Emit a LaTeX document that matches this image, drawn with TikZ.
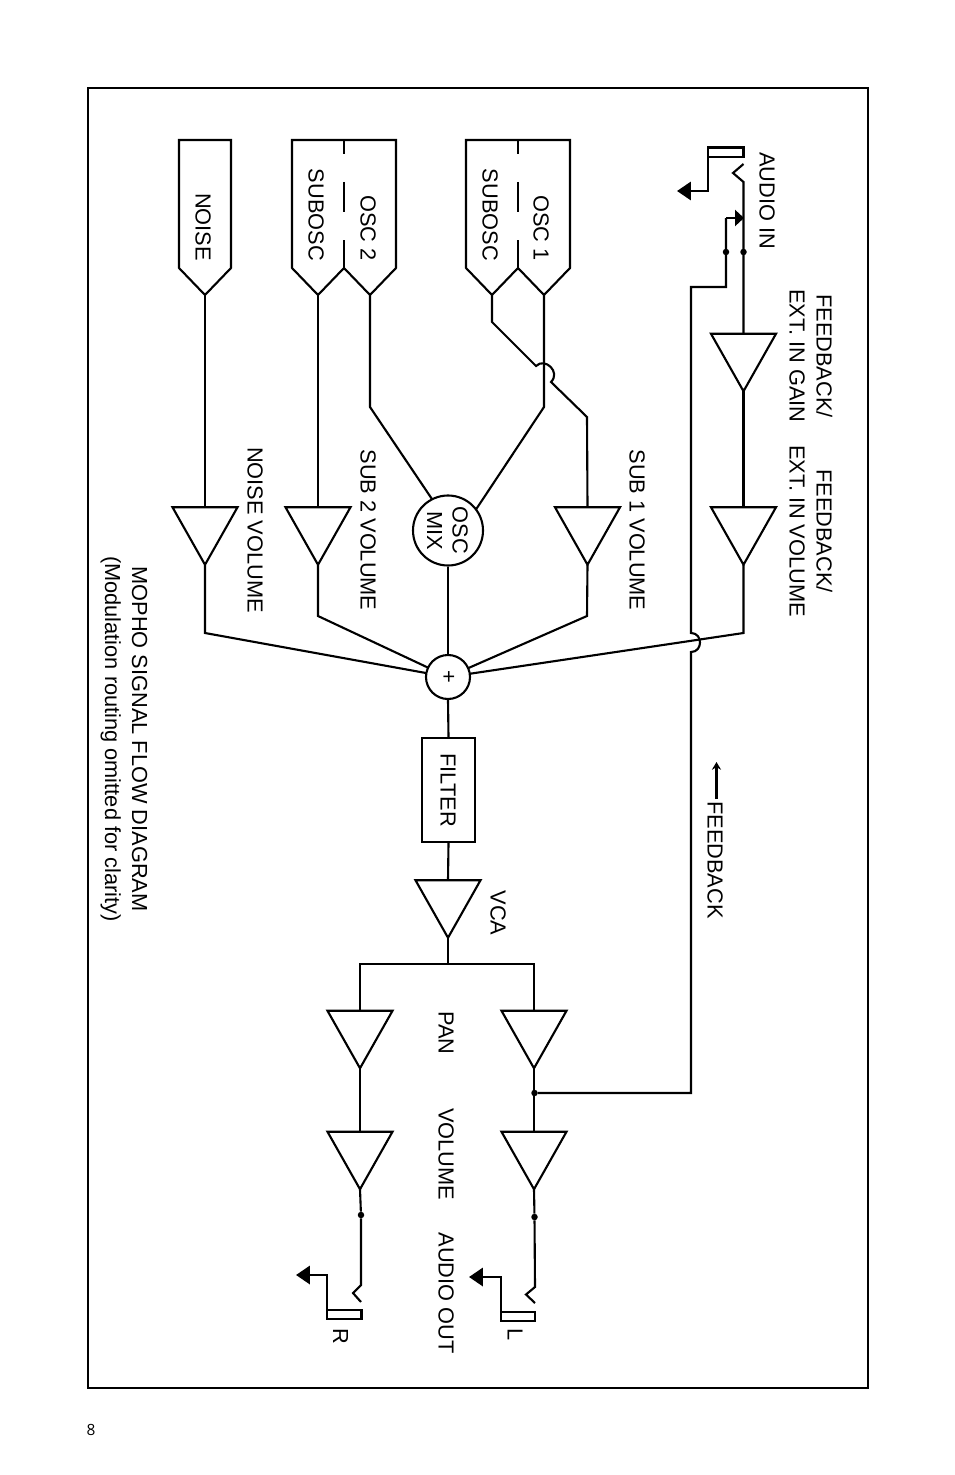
\documentclass[tikz,border=0pt]{standalone}
\usepackage{fontspec}
\setmainfont{Liberation Sans}
\newfontfamily\pagefont{Open Sans}
\usetikzlibrary{arrows.meta}
\newlength{\upx}\setlength{\upx}{0.05cm}
\tikzset{
  x=0.05cm,y=-0.05cm,
  wire/.style={line width=3pt,line join=miter},
  thick wire/.style={line width=3.8pt},
  frame/.style={draw,line width=3pt},
  lab/.style={rotate=-90,anchor=base,inner sep=0pt,font=\fontsize{31}{38.4}\selectfont},
  lab2/.style={rotate=-90,anchor=center,inner sep=0pt,align=center,font=\fontsize{31}{38.4}\selectfont},
  ampbox/.style={minimum width=65\upx,minimum height=57.5\upx,inner sep=0pt,outer sep=0pt},
  dot/.style={circle,fill,inner sep=0pt,minimum size=6.5\upx},
  sumcirc/.style={circle,draw,fill=white,line width=3pt,inner sep=0pt,minimum size=44\upx},
  mixcirc/.style={circle,draw,fill=white,line width=3pt,inner sep=0pt,minimum size=70\upx},
  filterbox/.style={draw,line width=3pt,inner sep=0pt,minimum width=53\upx,minimum height=104\upx},
  head/.style={-{Triangle[length=19.9pt,width=26pt]}},
  head small/.style={-{Triangle[length=12.8pt,width=22.8pt]}},
  head tiny/.style={-{Stealth[length=11pt,width=13pt]}},
}
\newcommand{\ampl}[3]{%
  \node[ampbox] (#1) at (#2,#3) {};
  \draw[wire] (#1.north west) -- (#1.north east) -- (#1.south) -- cycle;
}
% a pair of source blocks sharing a broken side: name1,name2,left,mid,right
\newcommand{\srcpair}[5]{%
  \coordinate (#1) at ({(#3+#4)/2},295);
  \coordinate (#2) at ({(#4+#5)/2},295);
  \draw[wire] (#3,268) -- (#3,140) -- (#5,140) -- (#5,268) -- (#2) -- (#4,268) -- (#1) -- cycle;
  \draw[wire] (#4,140) -- (#4,154);
  \draw[wire] (#4,182) -- (#4,212);
  \draw[wire] (#4,240) -- (#4,268);
}
\begin{document}
\begin{tikzpicture}
\useasboundingbox (0,0) rectangle (954,1475);
\draw[frame] (88,88) rectangle (868,1388);

% sources
\coordinate (noise) at (205,295);
\draw[wire] (179,268) -- (179,140) -- (231,140) -- (231,268) -- (noise) -- cycle;
\srcpair{subtwo}{osctwo}{292}{344}{396}
\srcpair{subone}{oscone}{466}{518}{570}
\node[lab] at (195.5,227) {NOISE};
\node[lab] at (308.5,215) {SUBOSC};
\node[lab] at (360.5,228) {OSC 2};
\node[lab] at (482.5,215) {SUBOSC};
\node[lab] at (533.5,228) {OSC 1};

% amplifiers
\ampl{infb}{743.5}{362.5}
\ampl{fbvol}{743.5}{536}
\ampl{subonev}{587.5}{536}
\ampl{subtwov}{318}{536}
\ampl{noisev}{205}{536}
\ampl{vca}{448}{909}
\ampl{panl}{534}{1039.5}
\ampl{panr}{360}{1039.5}
\ampl{voll}{534}{1160.5}
\ampl{volr}{360}{1160.5}

% oscillator wiring
\coordinate (o2bend) at (370,407);
\coordinate (o1bend) at (544,407);
\coordinate (s1a) at (492,322);
\coordinate (s1b) at (536,366);
\coordinate (s1c) at (551,382);
\coordinate (s1d) at (587,417);
\coordinate (mixc) at (448,530.5);
\coordinate (sumc) at (448,677);
\coordinate (o2end) at (440,511);
\coordinate (o1end) at (470,518.5);
\draw[wire] (noise) -- (noisev.north);
\draw[wire] (subtwo) -- (subtwov.north);
\draw[wire] (osctwo) -- (o2bend) -- (o2end);
\draw[wire] (oscone) -- (o1bend) -- (o1end);
\draw[wire] (subone) -- (s1a) -- (s1b) .. controls (545,357) and (561,372) .. (s1c) -- (s1d) -- (subonev.north);

% into the summer
\coordinate (nb) at (205,633);
\coordinate (s2b) at (318,616);
\coordinate (s1e) at (587,616);
\coordinate (fe) at (743.5,633);
\draw[wire] (noisev.south) -- (nb) -- (sumc);
\draw[wire] (subtwov.south) -- (s2b) -- (sumc);
\draw[wire] (subonev.south) -- (s1e) -- (sumc);
\draw[wire] (fbvol.south) -- (fe) -- (sumc);

% mixers and filter
\node[mixcirc] (mix) at (mixc) {};
\node[lab2,font=\fontsize{31}{36.5}\selectfont] at (447.5,530.5) {OSC\\MIX};
\node[sumcirc] (sum) at (sumc) {};
\node[font=\fontsize{31}{38}\selectfont,rotate=-90,inner sep=0pt] at (448,677) {+};
\node[filterbox] (filter) at (448.5,790) {};
\node[lab] at (440.5,790) {FILTER};
\draw[wire] (mix.south) -- (sum.north);

% main path
\draw[wire] (sum.south) -- (filter.north);
\draw[wire] (filter.south) -- (vca.north);
\coordinate (split) at (448,964);
\coordinate (spl) at (534,964);
\coordinate (spr) at (360,964);
\draw[wire] (vca.south) -- (split);
\draw[wire,line cap=rect] (spr) -- (spl);
\draw[wire] (spl) -- (panl.north);
\draw[wire] (spr) -- (panr.north);
\draw[wire] (panl.south) -- (voll.north);
\draw[wire] (panr.south) -- (volr.north);

% audio in
\node[dot] (d1) at (743.5,252) {};
\node[dot] (d2) at (726,252) {};
\coordinate (jtop) at (743.5,182);
\coordinate (jmid) at (733,173);
\coordinate (jend) at (743.5,164);
\draw[wire] (infb.north) -- (jtop) -- (jmid) -- (jend);
\draw[wire] (infb.south) -- (fbvol.north);
\draw[wire] (708,147.5) rectangle (743.5,157);
\coordinate (inarrow) at (677,191);
\draw[thick wire,head] (708,157) -- (708,191) -- (inarrow);
\coordinate (fbtip) at (744,218);
% feedback path
\node[dot] (d3) at (534.5,1093) {};
\coordinate (fbA) at (691,1093);
\coordinate (fbB) at (691,652);
\coordinate (fbC) at (691,633);
\coordinate (fbD) at (691,287);
\coordinate (fbE) at (726,287);
\coordinate (fbF) at (726,218);
\draw[wire] (d3) -- (fbA) -- (fbB) .. controls (703,652) and (703,633) .. (fbC) -- (fbD) -- (fbE) -- (fbF);
\draw[wire,head small] (fbF) -- (fbtip);

% outputs
\node[dot] (dl) at (534.5,1217) {};
\node[dot] (dr) at (361,1215) {};
\coordinate (la) at (535,1287);
\coordinate (lb) at (526,1294.5);
\coordinate (lc) at (535,1303);
\draw[wire] (voll.south) -- (dl) -- (la) -- (lb) -- (lc);
\coordinate (ra) at (361,1285);
\coordinate (rb) at (353,1293);
\coordinate (rc) at (361,1302);
\draw[wire] (volr.south) -- (dr) -- (ra) -- (rb) -- (rc);
\draw[wire] (501,1312) rectangle (535,1321);
\draw[wire] (327,1310) rectangle (361.5,1319);
\coordinate (larrow) at (469,1277);
\coordinate (rarrow) at (296,1275);
\draw[thick wire,head] (501,1312) -- (501,1277) -- (larrow);
\draw[thick wire,head] (327,1310) -- (327,1275) -- (rarrow);

% feedback label arrow
\coordinate (fa) at (716.5,799);
\coordinate (fb) at (716.5,762);
\draw[thick wire,head tiny] (fa) -- (fb);

% labels
\node[lab] at (759.5,200.5) {AUDIO IN};
\node[lab2] at (811,356) {FEEDBACK/\\EXT. IN GAIN};
\node[lab2] at (811,531) {FEEDBACK/\\EXT. IN VOLUME};
\node[lab] at (629.5,530) {SUB 1 VOLUME};
\node[lab] at (360.5,530) {SUB 2 VOLUME};
\node[lab] at (247.5,530) {NOISE VOLUME};
\node[lab] at (490.5,913) {VCA};
\node[lab] at (438.5,1033) {PAN};
\node[lab] at (438.5,1154) {VOLUME};
\node[lab] at (438.5,1293) {AUDIO OUT};
\node[lab] at (507.5,1335) {L};
\node[lab] at (333,1336) {R};
\node[lab] at (707.5,860) {FEEDBACK};
\node[lab2] at (124,739) {MOPHO SIGNAL FLOW DIAGRAM\\(Modulation routing omitted for clarity)};
\node[inner sep=0pt,font=\pagefont\fontsize{22}{26}\selectfont] (page) at (91,1430) {8};
\end{tikzpicture}
\end{document}
